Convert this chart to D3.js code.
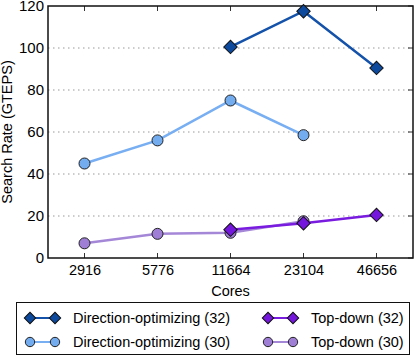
<!DOCTYPE html>
<html>
<head>
<meta charset="utf-8">
<script src="https://cdn.jsdelivr.net/npm/d3@7"></script>
<style>
  body { margin: 0; background: #fff; }
  svg text { font-family: "Liberation Sans", Arial, Helvetica, sans-serif; }
</style>
</head>
<body>
<div id="viz"></div>
<script>
const W = 415, H = 356;
const margin = {top: 6, right: 2, bottom: 98, left: 48},
    width = W - margin.left - margin.right,
    height = H - margin.top - margin.bottom;

const cores = ["2916", "5776", "11664", "23104", "46656"];
const yTicks = [0, 20, 40, 60, 80, 100, 120];

// values per core count, null = not measured
const dirOpt32 = [null, null, 100.5, 117.5, 90.5];
const dirOpt30 = [45, 56, 75, 58.5, null];
const topDown32 = [null, null, 13.5, 16.5, 20.5];
const topDown30 = [7, 11.5, 12, 17.5, null];

const series = [
    {name: "Direction-optimizing (32)", values: dirOpt32, color: "#1452aa", fill: "#0d4a9e", shape: "diamond"},
    {name: "Direction-optimizing (30)", values: dirOpt30, color: "#78aef2", fill: "#74acf0", shape: "circle"},
    {name: "Top-down (32)", values: topDown32, color: "#7a1be0", fill: "#7416dc", shape: "diamond"},
    {name: "Top-down (30)", values: topDown30, color: "#a587d8", fill: "#9f7fd6", shape: "circle"}
];

const font = "'Liberation Sans', Arial, Helvetica, sans-serif";

const svg = d3.select("#viz").append("svg")
    .attr("width", W).attr("height", H)
    .attr("font-family", font);

const g = svg.append("g")
    .attr("transform", "translate(" + margin.left + "," + margin.top + ")");

const xScale = d3.scalePoint().domain(cores).range([0, width]).padding(0.5);
const yScale = d3.scaleLinear().domain([0, 120]).range([height, 0]);

// grid
g.selectAll(".grid").data(yTicks.slice(1, -1)).enter().append("line")
    .attr("x1", 0).attr("x2", width)
    .attr("y1", d => yScale(d)).attr("y2", d => yScale(d))
    .attr("stroke", "#999").attr("stroke-width", 1).attr("stroke-dasharray", "1.5,3.5");

// axes
const yAxis = g.append("g").call(d3.axisLeft(yScale).tickValues(yTicks).tickSize(0).tickPadding(4));
yAxis.attr("font-family", font);
yAxis.select(".domain").remove();
yAxis.selectAll("text").attr("font-size", 15).attr("fill", "#000");

const xAxis = g.append("g").attr("transform", "translate(0," + height + ")")
    .call(d3.axisBottom(xScale).tickSize(0).tickPadding(7));
xAxis.attr("font-family", font);
xAxis.select(".domain").remove();
xAxis.selectAll("text").attr("font-size", 14.5).attr("fill", "#000");

// inward ticks top/bottom and right
cores.forEach(c => {
    g.append("line").attr("x1", xScale(c)).attr("x2", xScale(c)).attr("y1", height).attr("y2", height - 5)
        .attr("stroke", "#333");
    g.append("line").attr("x1", xScale(c)).attr("x2", xScale(c)).attr("y1", 0).attr("y2", 5)
        .attr("stroke", "#333");
});
yTicks.forEach(t => {
    g.append("line").attr("x1", width).attr("x2", width - 5).attr("y1", yScale(t)).attr("y2", yScale(t))
        .attr("stroke", "#333");
});

g.append("rect").attr("width", width).attr("height", height)
    .attr("fill", "none").attr("stroke", "#111").attr("stroke-width", 1.5);

g.append("text").attr("x", width / 2).attr("y", height + 38)
    .attr("text-anchor", "middle").attr("font-size", 14.5).text("Cores");

svg.append("text")
    .attr("transform", "translate(12," + (margin.top + height / 2) + ") rotate(-90)")
    .attr("text-anchor", "middle").attr("font-size", 14.5).text("Search Rate (GTEPS)");

function drawMarker(sel, s, x, y, k) {
    if (s.shape === "diamond") {
        sel.append("path")
            .attr("d", d3.symbol(d3.symbolSquare, 90 * k * k)())
            .attr("transform", "translate(" + x + "," + y + ") rotate(45)")
            .attr("fill", s.fill).attr("stroke", "#111").attr("stroke-width", 1);
    } else {
        sel.append("circle").attr("cx", x).attr("cy", y).attr("r", 5.5 * k)
            .attr("fill", s.fill).attr("stroke", "#222").attr("stroke-width", 1);
    }
}

const line = d3.line()
    .defined(d => d.v != null)
    .x(d => xScale(d.c)).y(d => yScale(d.v));

// draw in reverse so the 32-proc series sit on top
series.slice().reverse().forEach(s => {
    const pts = s.values.map((v, i) => ({c: cores[i], v: v}));
    g.append("path").datum(pts).attr("d", line)
        .attr("fill", "none").attr("stroke", s.color).attr("stroke-width", 2.5);
    pts.filter(p => p.v != null).forEach(p => drawMarker(g, s, xScale(p.c), yScale(p.v), 1));
});

// legend
const lg = svg.append("g");
lg.append("rect").attr("x", 16.5).attr("y", 302.5).attr("width", 393).attr("height", 52)
    .attr("fill", "#fff").attr("stroke", "#111").attr("stroke-width", 1);
series.forEach((s, i) => {
    const col = i < 2 ? 0 : 1, row = i % 2;
    const x0 = col === 0 ? 30 : 268, y0 = 318 + row * 24;
    lg.append("line").attr("x1", x0).attr("x2", x0 + 25).attr("y1", y0).attr("y2", y0)
        .attr("stroke", s.color).attr("stroke-width", 2);
    drawMarker(lg, s, x0, y0, 0.85);
    drawMarker(lg, s, x0 + 25, y0, 0.85);
    lg.append("text").attr("x", x0 + 43).attr("y", y0 + 5).attr("font-size", 14.5).text(s.name);
});
</script>
</body>
</html>
